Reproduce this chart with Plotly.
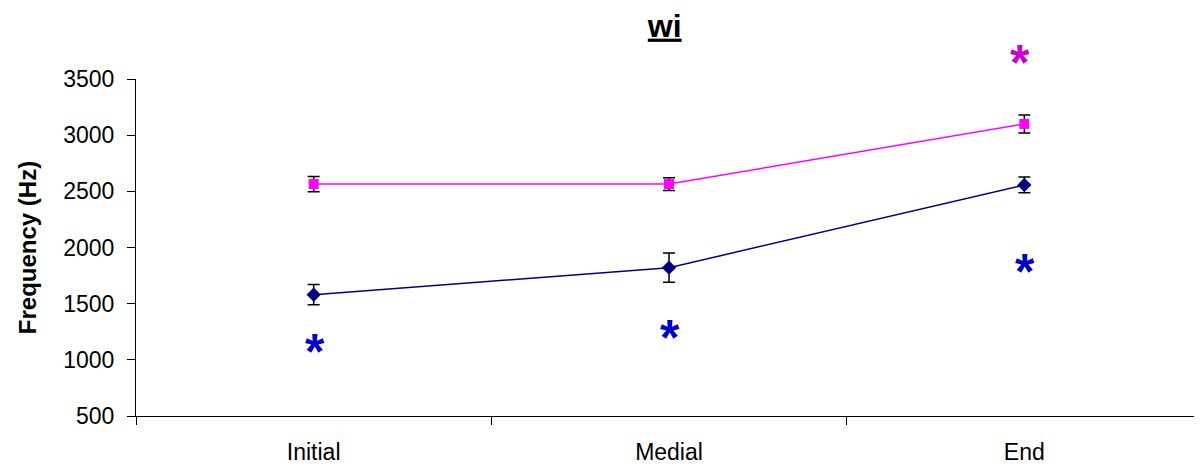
import plotly.graph_objects as go

categories = ["Initial", "Medial", "End"]
pink_values = [2565, 2565, 3100]
pink_err = [68, 57, 80]
blue_values = [1580, 1820, 2557]
blue_err = [90, 130, 70]
star_blue_y = [1145, 1270, 1850]
star_pink_cat = ["End"]
star_pink_y = [3715]
y_ticks = [500, 1000, 1500, 2000, 2500, 3000, 3500]
y_range = [500, 3500]

fig = go.Figure()
fig.add_trace(go.Scatter(
    x=categories, y=pink_values, mode="lines+markers",
    line=dict(color="#FF00FF", width=1.5),
    marker=dict(symbol="square", size=10, color="#FF00FF"),
    error_y=dict(type="data", array=pink_err, color="black", thickness=1.5, width=6),
    showlegend=False,
))
fig.add_trace(go.Scatter(
    x=categories, y=blue_values, mode="lines+markers",
    line=dict(color="#000080", width=1.5),
    marker=dict(symbol="diamond", size=11, color="#000080"),
    error_y=dict(type="data", array=blue_err, color="black", thickness=1.5, width=6),
    showlegend=False,
))

star_font = "Liberation Sans, Arial"
annotations = []
for c, y in zip(categories, star_blue_y):
    annotations.append(dict(x=c, y=y, xref="x", yref="y", text="<b>*</b>", showarrow=False,
                            font=dict(family=star_font, size=50, color="#0000CC"),
                            yshift=-8, xshift=1))
for c, y in zip(star_pink_cat, star_pink_y):
    # anchor sits on the axis top, text placed at the data value (above the range)
    annotations.append(dict(x=c, y=y_range[1], xref="x", yref="y",
                            ax=c, ay=y, axref="x", ayref="y",
                            text="<b>*</b>", showarrow=True, arrowwidth=0.1,
                            arrowcolor="rgba(0,0,0,0)", arrowhead=0,
                            font=dict(family=star_font, size=50, color="#CC00CC"),
                            yshift=-8, xshift=-4))

fig.update_layout(
    width=1194, height=459,
    margin=dict(l=128, r=0, t=71, b=51),
    paper_bgcolor="white", plot_bgcolor="white",
    font=dict(family="Liberation Sans, Arial", color="black"),
    title=dict(text="<b><u>wi</u></b>", x=0.550, xanchor="center", y=0.962, yanchor="middle",
               font=dict(size=32, family="Liberation Sans, Arial", color="black")),
    annotations=annotations,
    xaxis=dict(
        type="category", categoryorder="array", categoryarray=categories,
        range=[-0.5, 2.5], showline=True, linecolor="black", linewidth=1,
        ticks="outside", tickson="boundaries", ticklen=8, tickcolor="black",
        showgrid=False, zeroline=False, tickfont=dict(size=23),
        ticklabelstandoff=15, automargin=False,
    ),
    yaxis=dict(
        range=y_range, tickvals=y_ticks, showline=True, linecolor="black", linewidth=1,
        ticks="outside", ticklen=8, tickcolor="black", showgrid=False, zeroline=False,
        tickfont=dict(size=23), ticklabelstandoff=8, automargin=False,
        title=dict(text="<b>Frequency (Hz)</b>", font=dict(size=24), standoff=19),
    ),
)

fig.write_html("out.html")
